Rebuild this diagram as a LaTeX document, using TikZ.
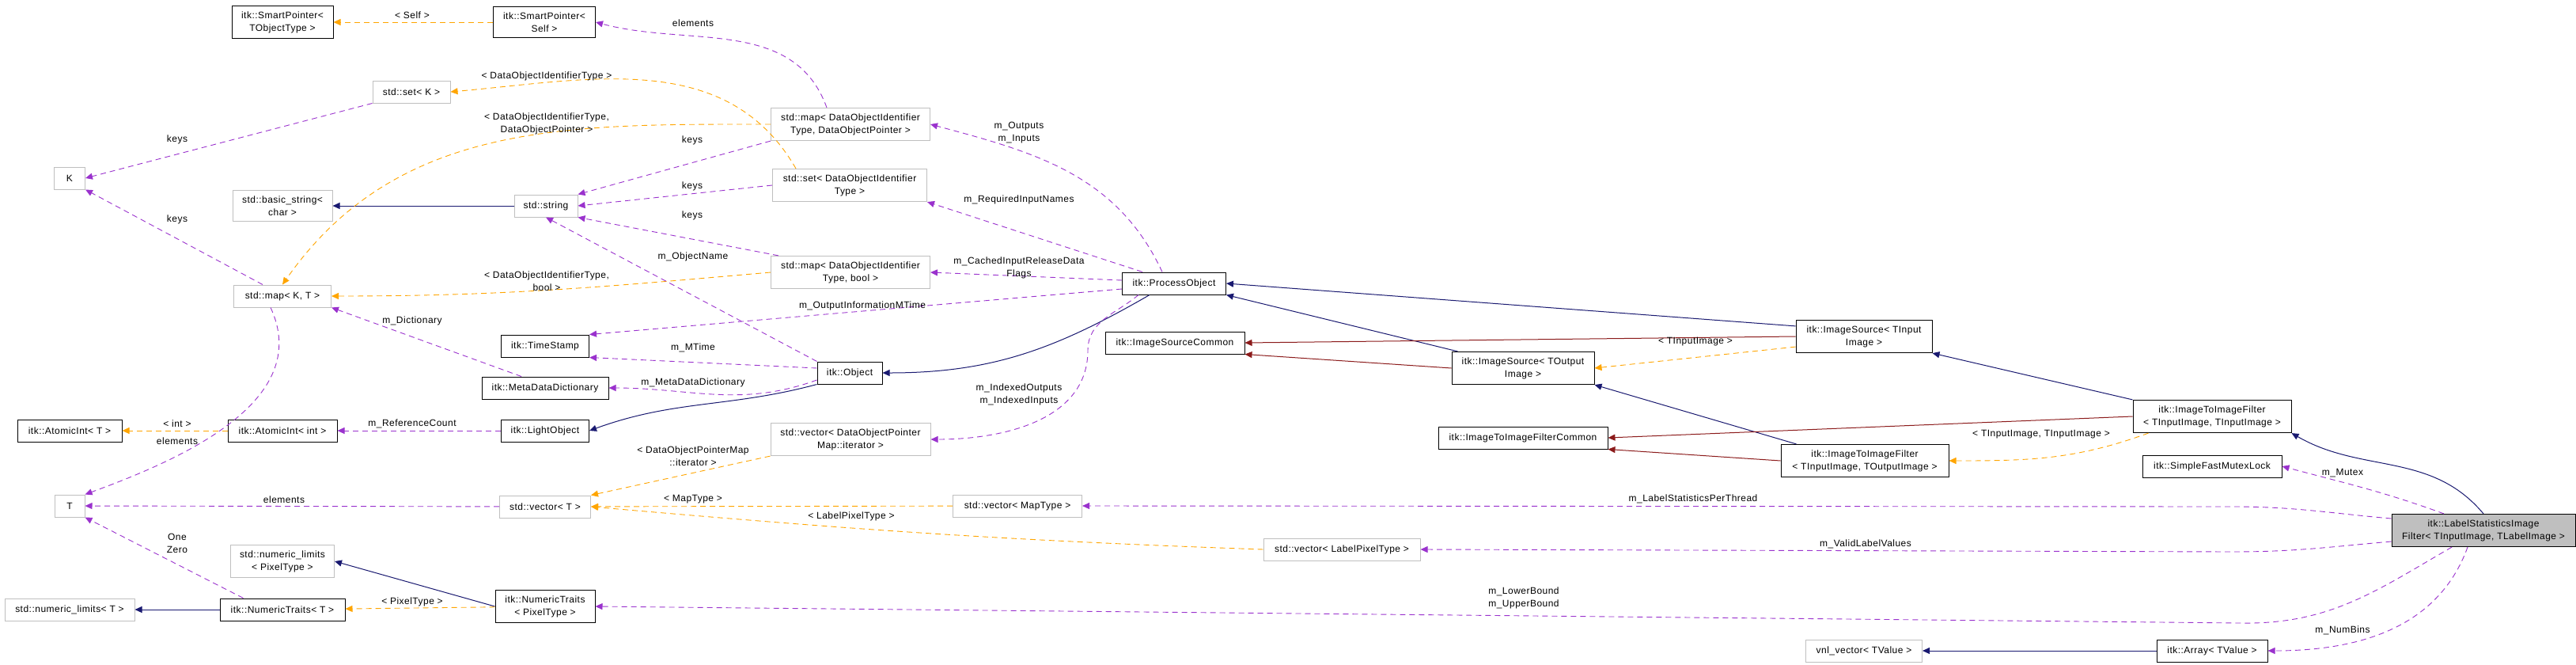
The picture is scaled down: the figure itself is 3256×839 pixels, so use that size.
\documentclass[tikz,border=0pt]{standalone}
\usepackage{fontspec}
\setmainfont[LetterSpace=4]{Liberation Sans}
\usetikzlibrary{arrows.meta}
\definecolor{usecol}{HTML}{9A32CD}
\definecolor{tplcol}{HTML}{FFA500}
\definecolor{inhcol}{HTML}{191970}
\definecolor{prvcol}{HTML}{8B1A1A}
\definecolor{gry}{HTML}{BFBFBF}
\tikzset{
  cls/.style={draw=black, line width=1pt, align=center, inner xsep=6pt, inner ysep=7pt, minimum height=28pt},
  ext/.style={cls, draw=gry},
  lbl/.style={align=center, inner sep=1pt},
  tip/.style={-{Triangle[length=9pt,width=8pt]}},
  use/.style={tip, usecol, dashed, dash pattern=on 7pt off 5pt, line width=0.9pt},
  tpl/.style={tip, tplcol, dashed, dash pattern=on 7pt off 5pt, line width=0.9pt},
  inh/.style={tip, inhcol, line width=1pt},
  prv/.style={tip, prvcol, line width=1pt},
}
\begin{document}
\begin{tikzpicture}[x=1pt, y=-1pt, every node/.style={font=\fontsize{12}{16}\selectfont}]
      \useasboundingbox (0,0) rectangle (3256,839);
      % Classes
      \node[cls, minimum width=128] (spt) at (357,28) {itk::SmartPointer<\\ TObjectType >};
      \node[cls, minimum width=129] (sps) at (688,28) {itk::SmartPointer<\\ Self >};
      \node[ext, minimum width=98] (setk) at (520,116) {std::set< K >};
      \node[ext, minimum width=39] (k) at (88,225) {K};
      \node[ext, minimum width=126] (bstr) at (357,260) {std::basic\_string<\\ char >};
      \node[ext, minimum width=80] (str) at (690,260) {std::string};
      \node[ext, minimum width=201] (mapdo) at (1075,157) {std::map< DataObjectIdentifier\\ Type, DataObjectPointer >};
      \node[ext, minimum width=195] (setdo) at (1074,234) {std::set< DataObjectIdentifier\\ Type >};
      \node[ext, minimum width=201] (mapdob) at (1075,344) {std::map< DataObjectIdentifier\\ Type, bool >};
      \node[ext, minimum width=123] (mapkt) at (357,374) {std::map< K, T >};
      \node[cls, minimum width=111] (ts) at (689,437) {itk::TimeStamp};
      \node[cls, minimum width=160] (mdd) at (689,490) {itk::MetaDataDictionary};
      \node[cls, minimum width=82] (obj) at (1074,471) {itk::Object};
      \node[cls, minimum width=111] (lobj) at (689,544) {itk::LightObject};
      \node[cls, minimum width=138] (aint) at (357,544) {itk::AtomicInt< int >};
      \node[cls, minimum width=132] (atom) at (88,544) {itk::AtomicInt< T >};
      \node[ext, minimum width=202] (vdopm) at (1075,555) {std::vector< DataObjectPointer\\ Map::iterator >};
      \node[ext, minimum width=115] (vect) at (689,640) {std::vector< T >};
      \node[ext, minimum width=38] (t) at (88,639) {T};
      \node[ext, minimum width=131] (nlp) at (357,709) {std::numeric\_limits\\ < PixelType >};
      \node[cls, minimum width=158] (ntt) at (357,770) {itk::NumericTraits< T >};
      \node[ext, minimum width=164] (nlt) at (88,770) {std::numeric\_limits< T >};
      \node[cls, minimum width=126] (ntp) at (689,766) {itk::NumericTraits\\ < PixelType >};
      \node[cls, minimum width=131] (po) at (1484,358) {itk::ProcessObject};
      \node[cls, minimum width=176] (isc) at (1485,433) {itk::ImageSourceCommon};
      \node[cls, minimum width=180] (iso) at (1925,465) {itk::ImageSource< TOutput\\ Image >};
      \node[cls, minimum width=214] (itic) at (1925,553) {itk::ImageToImageFilterCommon};
      \node[ext, minimum width=163] (vmap) at (1286,639) {std::vector< MapType >};
      \node[ext, minimum width=198] (vlpt) at (1696,694) {std::vector< LabelPixelType >};
      \node[cls, minimum width=172] (isi) at (2356,425) {itk::ImageSource< TInput\\ Image >};
      \node[cls, minimum width=200] (itii) at (2796,526) {itk::ImageToImageFilter\\ < TInputImage, TInputImage >};
      \node[cls, minimum width=212] (itio) at (2357,582) {itk::ImageToImageFilter\\ < TInputImage, TOutputImage >};
      \node[cls, minimum width=176] (mtx) at (2796,589) {itk::SimpleFastMutexLock};
      \node[cls, fill=gry, minimum width=232] (lsf) at (3139,670) {itk::LabelStatisticsImage\\ Filter< TInputImage, TLabelImage >};
      \node[ext, minimum width=147] (vnl) at (2356,822) {vnl\_vector< TValue >};
      \node[cls, minimum width=140] (arr) at (2796,822) {itk::Array< TValue >};

      % Inheritance
      \draw[inh] (str) -- (bstr);
      \draw[inh] (po.south west) ++(35,0) to[out=210, in=0] (obj.east);
      \draw[inh] (obj.south west) to[out=195, in=20] (lobj.east);
      \draw[inh] (ntp.west) -- (nlp.east);
      \draw[inh] (ntt) -- (nlt);
      \draw[inh] (isi.north west) ++(0,8) -- (po.east);
      \draw[inh] (iso.north west) ++(8,0) -- (po.south east);
      \draw[inh] (itio.north west) ++(20,0) -- (iso.south east);
      \draw[inh] (itii.north west) -- (isi.south east);
      \draw[inh] (lsf.north) to[out=130, in=-30] (itii.south east);
      \draw[inh] (arr) -- (vnl);
      \draw[prv] (isi.west) -- (isc.east);
      \draw[prv] (iso.west) -- (isc.south east);
      \draw[prv] (itii.west) -- (itic.east);
      \draw[prv] (itio.west) -- (itic.south east);

      % Template arguments
      \draw[tpl] (sps) -- (spt);
      \draw[tpl] (setdo.north west) ++(30,0) to[out=120, in=5] (setk.east);
      \draw[tpl] (mapdo.west) to[out=180, in=55] (mapkt.north);
      \draw[tpl] (mapdob.west) to[out=185, in=0] (mapkt.east);
      \draw[tpl] (aint) -- (atom);
      \draw[tpl] (vdopm.south west) -- (vect.north east);
      \draw[tpl] (vmap) -- (vect);
      \draw[tpl] (vlpt.west) to[out=178, in=-5] (vect.east);
      \draw[tpl] (ntp) -- (ntt);
      \draw[tpl] (isi.south west) ++(0,-8) -- (iso.east);
      \draw[tpl] (itii.south west) ++(20,0) to[out=200, in=0] (itio.east);

      % Members
      \draw[use] (mapdo.north) ++(-30,0) to[out=110, in=-15] (sps.east);
      \draw[use] (setk.south west) -- (k.east);
      \draw[use] (mapkt.north) ++(-25,0) -- (k.south east);
      \draw[use] (mapdo.south west) -- (str.north east);
      \draw[use] (setdo.west) -- (str.east);
      \draw[use] (mapdob.north west) ++(10,0) -- (str.south east);
      \draw[use] (obj.north west) -- (str.south);
      \draw[use] (mdd.north) ++(-30,0) -- (mapkt.south east);
      \draw[use] (mapkt.south) ++(-15,0) to[out=-65, in=20] (t.north east);
      \draw[use] (vect) -- (t);
      \draw[use] (ntt.north west) ++(30,0) -- (t.south east);
      \draw[use] (po.west) ++(0,7) -- (ts.north east);
      \draw[use] (obj.west) ++(0,-6) -- (ts.south east);
      \draw[use] (obj.west) ++(0,9) to[out=200, in=0] (mdd.east);
      \draw[use] (lobj) -- (aint);
      \draw[use] (po.north) ++(-15,0) to[out=115, in=-15] (mapdo.east);
      \draw[use] (po.north) ++(-40,0) -- (setdo.south east);
      \draw[use] (po.west) ++(0,-4) -- (mapdob.east);
      \draw[use] (po.south) ++(-45,0) to[out=220, in=90] ++(-64,70) to[out=-90, in=0] (vdopm.east);
      \draw[use] (lsf.west) ++(0,-15) to[out=175, in=0] ++(-200,-15) -- (vmap.east);
      \draw[use] (lsf.west) ++(0,14) to[out=185, in=0] ++(-200,13) -- (vlpt.east);
      \draw[use] (lsf.south) ++(-40,0) to[out=210, in=0] ++(-260,96) -- (ntp.east);
      \draw[use] (lsf.north) ++(-50,0) to[out=160, in=-15] (mtx.east);
      \draw[use] (lsf.south) ++(-20,0) to[out=-110, in=0] (arr.east);

      % Labels
      \node[lbl] (l1) at (521,19) {< Self >};
      \node[lbl] (l2) at (876,29) {elements};
      \node[lbl] (l3) at (691,96) {< DataObjectIdentifierType >};
      \node[lbl] (l4) at (691,156) {< DataObjectIdentifierType,\\ DataObjectPointer >};
      \node[lbl] (l5) at (224,176) {keys};
      \node[lbl] (l6) at (224,277) {keys};
      \node[lbl] (l7) at (875,177) {keys};
      \node[lbl] (l8) at (875,235) {keys};
      \node[lbl] (l9) at (875,272) {keys};
      \node[lbl] (l10) at (876,324) {m\_ObjectName};
      \node[lbl] (l11) at (691,355) {< DataObjectIdentifierType,\\ bool >};
      \node[lbl] (l12) at (521,405) {m\_Dictionary};
      \node[lbl] (l13) at (876,439) {m\_MTime};
      \node[lbl] (l14) at (876,483) {m\_MetaDataDictionary};
      \node[lbl] (l15) at (521,535) {m\_ReferenceCount};
      \node[lbl] (l16) at (224,535) {< int >};
      \node[lbl] (l17) at (224,557) {elements};
      \node[lbl] (l18) at (876,576) {< DataObjectPointerMap\\ ::iterator >};
      \node[lbl] (l19) at (359,631) {elements};
      \node[lbl] (l20) at (876,631) {< MapType >};
      \node[lbl] (l21) at (1076,652) {< LabelPixelType >};
      \node[lbl] (l22) at (224,686) {One\\ Zero};
      \node[lbl] (l23) at (521,760) {< PixelType >};
      \node[lbl] (l24) at (1288,168) {m\_Outputs\\ m\_Inputs};
      \node[lbl] (l25) at (1288,252) {m\_RequiredInputNames};
      \node[lbl] (l26) at (1288,338) {m\_CachedInputReleaseData\\ Flags};
      \node[lbl] (l27) at (1090,386) {m\_OutputInformationMTime};
      \node[lbl] (l28) at (1288,498) {m\_IndexedOutputs\\ m\_IndexedInputs};
      \node[lbl] (l29) at (2143,432) {< TInputImage >};
      \node[lbl] (l30) at (2140,630) {m\_LabelStatisticsPerThread};
      \node[lbl] (l31) at (1926,755) {m\_LowerBound\\ m\_UpperBound};
      \node[lbl] (l32) at (2580,549) {< TInputImage, TInputImage >};
      \node[lbl] (l33) at (2961,598) {m\_Mutex};
      \node[lbl] (l34) at (2358,687) {m\_ValidLabelValues};
      \node[lbl] (l35) at (2961,796) {m\_NumBins};
\end{tikzpicture}
\end{document}
